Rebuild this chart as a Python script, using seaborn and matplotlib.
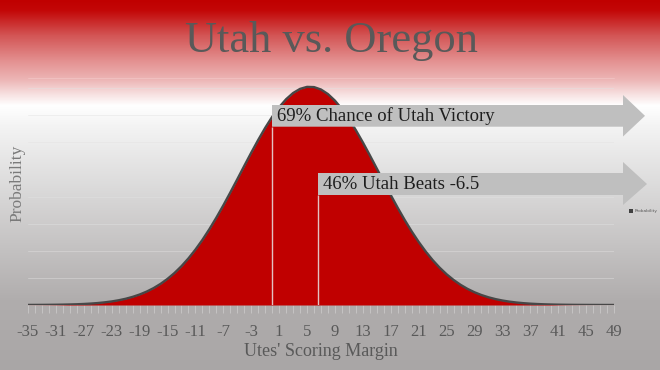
import numpy as np
import pandas as pd
import matplotlib
matplotlib.use("Agg")
import matplotlib.pyplot as plt
import seaborn as sns
from matplotlib.patches import Polygon
from matplotlib.colors import to_rgb

# ---- data -------------------------------------------------------------
margins = list(range(-35, 50))
probability = [
    0.0000098, 0.0000147, 0.0000218, 0.0000321, 0.0000468, 0.0000675, 0.0000963,
    0.000136, 0.000190, 0.000263, 0.000361, 0.000490, 0.000658, 0.000875,
    0.001151, 0.001500, 0.001933, 0.002467, 0.003115, 0.003897, 0.004824,
    0.005908, 0.007165, 0.008600, 0.010219, 0.012017, 0.013991, 0.016123,
    0.018392, 0.020765, 0.023207, 0.025674, 0.028115, 0.030473, 0.032697,
    0.034728, 0.036509, 0.037989, 0.039129, 0.039894, 0.040264, 0.040223,
    0.039774, 0.038931, 0.037718, 0.036175, 0.034342, 0.032266, 0.030013,
    0.027633, 0.025182, 0.022716, 0.020285, 0.017930, 0.015685, 0.013583,
    0.011645, 0.009882, 0.008298, 0.006899, 0.005677, 0.004625, 0.003730,
    0.002976, 0.002351, 0.001839, 0.001423, 0.001091, 0.000827, 0.000621,
    0.000461, 0.000339, 0.000247, 0.000178, 0.000127, 0.0000898, 0.0000627,
    0.0000434, 0.0000297, 0.0000201, 0.0000135, 0.0000090, 0.0000059,
    0.0000038, 0.0000025,
]
tick_values = [-35, -31, -27, -23, -19, -15, -11, -7, -3, 1, 5, 9, 13, 17,
               21, 25, 29, 33, 37, 41, 45, 49]
tick_labels = ["-35", "-31", "-27", "-23", "-19", "-15", "-11", "-7", "-3", "1",
               "5", "9", "13", "17", "21", "25", "29", "33", "37", "41", "45", "49"]
thresholds = [0, 6.5]
callouts = ["69% Chance of Utah Victory", "46% Utah Beats -6.5"]
title = "Utah vs. Oregon"
x_title = "Utes' Scoring Margin"
y_title = "Probability"

# ---- style ------------------------------------------------------------
sns.set_style("white")
plt.rcParams["font.family"] = ["Liberation Serif", "DejaVu Serif"]

W, H = 660, 370
fig = plt.figure(figsize=(W / 100, H / 100), dpi=100)

# background gradient
stops_y = [0, 10, 35, 60, 80, 95, 105, 125, 200, 300, 370]
stops_c = ["#C00000", "#C30707", "#D35555", "#E38F8F", "#EDB7B7", "#F8E4E4",
           "#FFFFFF", "#F4F4F4", "#D6D5D5", "#B0ADAD", "#A9A6A6"]
rows = np.arange(H)
rgb = np.array([to_rgb(c) for c in stops_c])
col = np.stack([np.interp(rows, stops_y, rgb[:, k]) for k in range(3)], axis=1)
img = np.repeat(col[:, None, :], 2, axis=1)
bg = fig.add_axes([0, 0, 1, 1], zorder=0)
bg.imshow(img, aspect="auto", extent=[0, W, H, 0], interpolation="bilinear")
bg.set_xlim(0, W)
bg.set_ylim(H, 0)
bg.set_axis_off()

# main chart
ax = fig.add_axes([28 / W, 65 / H, 586 / W, 240 / H], zorder=1)
ax.patch.set_alpha(0)
df = pd.DataFrame({"margin": margins, "probability": probability})
ax.fill_between(df["margin"], df["probability"], color="#C00000", lw=0, zorder=2)
sns.lineplot(data=df, x="margin", y="probability", ax=ax, color="#474747",
             lw=1.7, zorder=3)
ax.set_xlim(-35, 49)
ax.set_ylim(0, 0.0443)
ax.set_yticks(np.arange(0.005, 0.0401, 0.005))
ax.yaxis.grid(True, color="#E2E2E2", lw=0.7, alpha=0.45)
ax.set_axisbelow(True)
ax.tick_params(axis="y", length=0, labelleft=False)
ax.set_xticks(tick_values)
ax.set_xticklabels(tick_labels)
ax.set_xticks(margins, minor=True)
ax.tick_params(axis="x", which="both", direction="out", length=5.5,
               color="#C9C7C7", width=0.6, bottom=True)
ax.tick_params(axis="x", which="major", labelsize=12, labelcolor="#595959", pad=8)
for s in ax.spines.values():
    s.set_visible(False)
ax.set_xlabel("")
ax.set_ylabel("")

# threshold lines (from the baseline up to the callout arrows)
tops = [0.03291, 0.0203]
ax.vlines(thresholds, 0, tops, colors="#E3C2C2", lw=1.0, zorder=4)

# overlay for annotations (pixel coordinates)
ov = fig.add_axes([0, 0, 1, 1], zorder=2)
ov.set_xlim(0, W)
ov.set_ylim(H, 0)
ov.set_axis_off()
ov.patch.set_alpha(0)

def arrow(x0, top, bot, head_x, head_top, head_bot, tip_x):
    mid = (top + bot) / 2
    pts = [(x0, top), (head_x, top), (head_x, head_top), (tip_x, mid),
           (head_x, head_bot), (head_x, bot), (x0, bot)]
    ov.add_patch(Polygon(pts, closed=True, facecolor="#BFBFBF", edgecolor="none"))

arrow(272, 105, 126.7, 623, 95, 136.5, 645)
arrow(318, 173, 195, 623, 162, 205, 647)
ov.text(277, 116.5, callouts[0], fontsize=13.5, color="#1E1E1E", ha="left", va="center")
ov.text(323, 184.5, callouts[1], fontsize=13.5, color="#1E1E1E", ha="left", va="center")

ov.text(331, 52, title, fontsize=32, color="#595959", ha="center", va="baseline")
ov.plot([28, 614], [78, 78], color="#F2C4C4", lw=0.7, alpha=0.8)
ov.text(321, 352, x_title, fontsize=13, color="#595959", ha="center", va="center")
ov.text(17, 183, y_title, fontsize=12.5, color="#7A7A7A", ha="center", va="center",
        rotation=90)

# tiny legend
ov.add_patch(Polygon([(629, 209), (633, 209), (633, 213), (629, 213)],
                     closed=True, facecolor="#404040", edgecolor="none"))
ov.text(634.5, 211, y_title, fontsize=3.2, color="#595959", ha="left", va="center",
        family=["DejaVu Sans"])

fig.savefig("out.png", dpi=100)
